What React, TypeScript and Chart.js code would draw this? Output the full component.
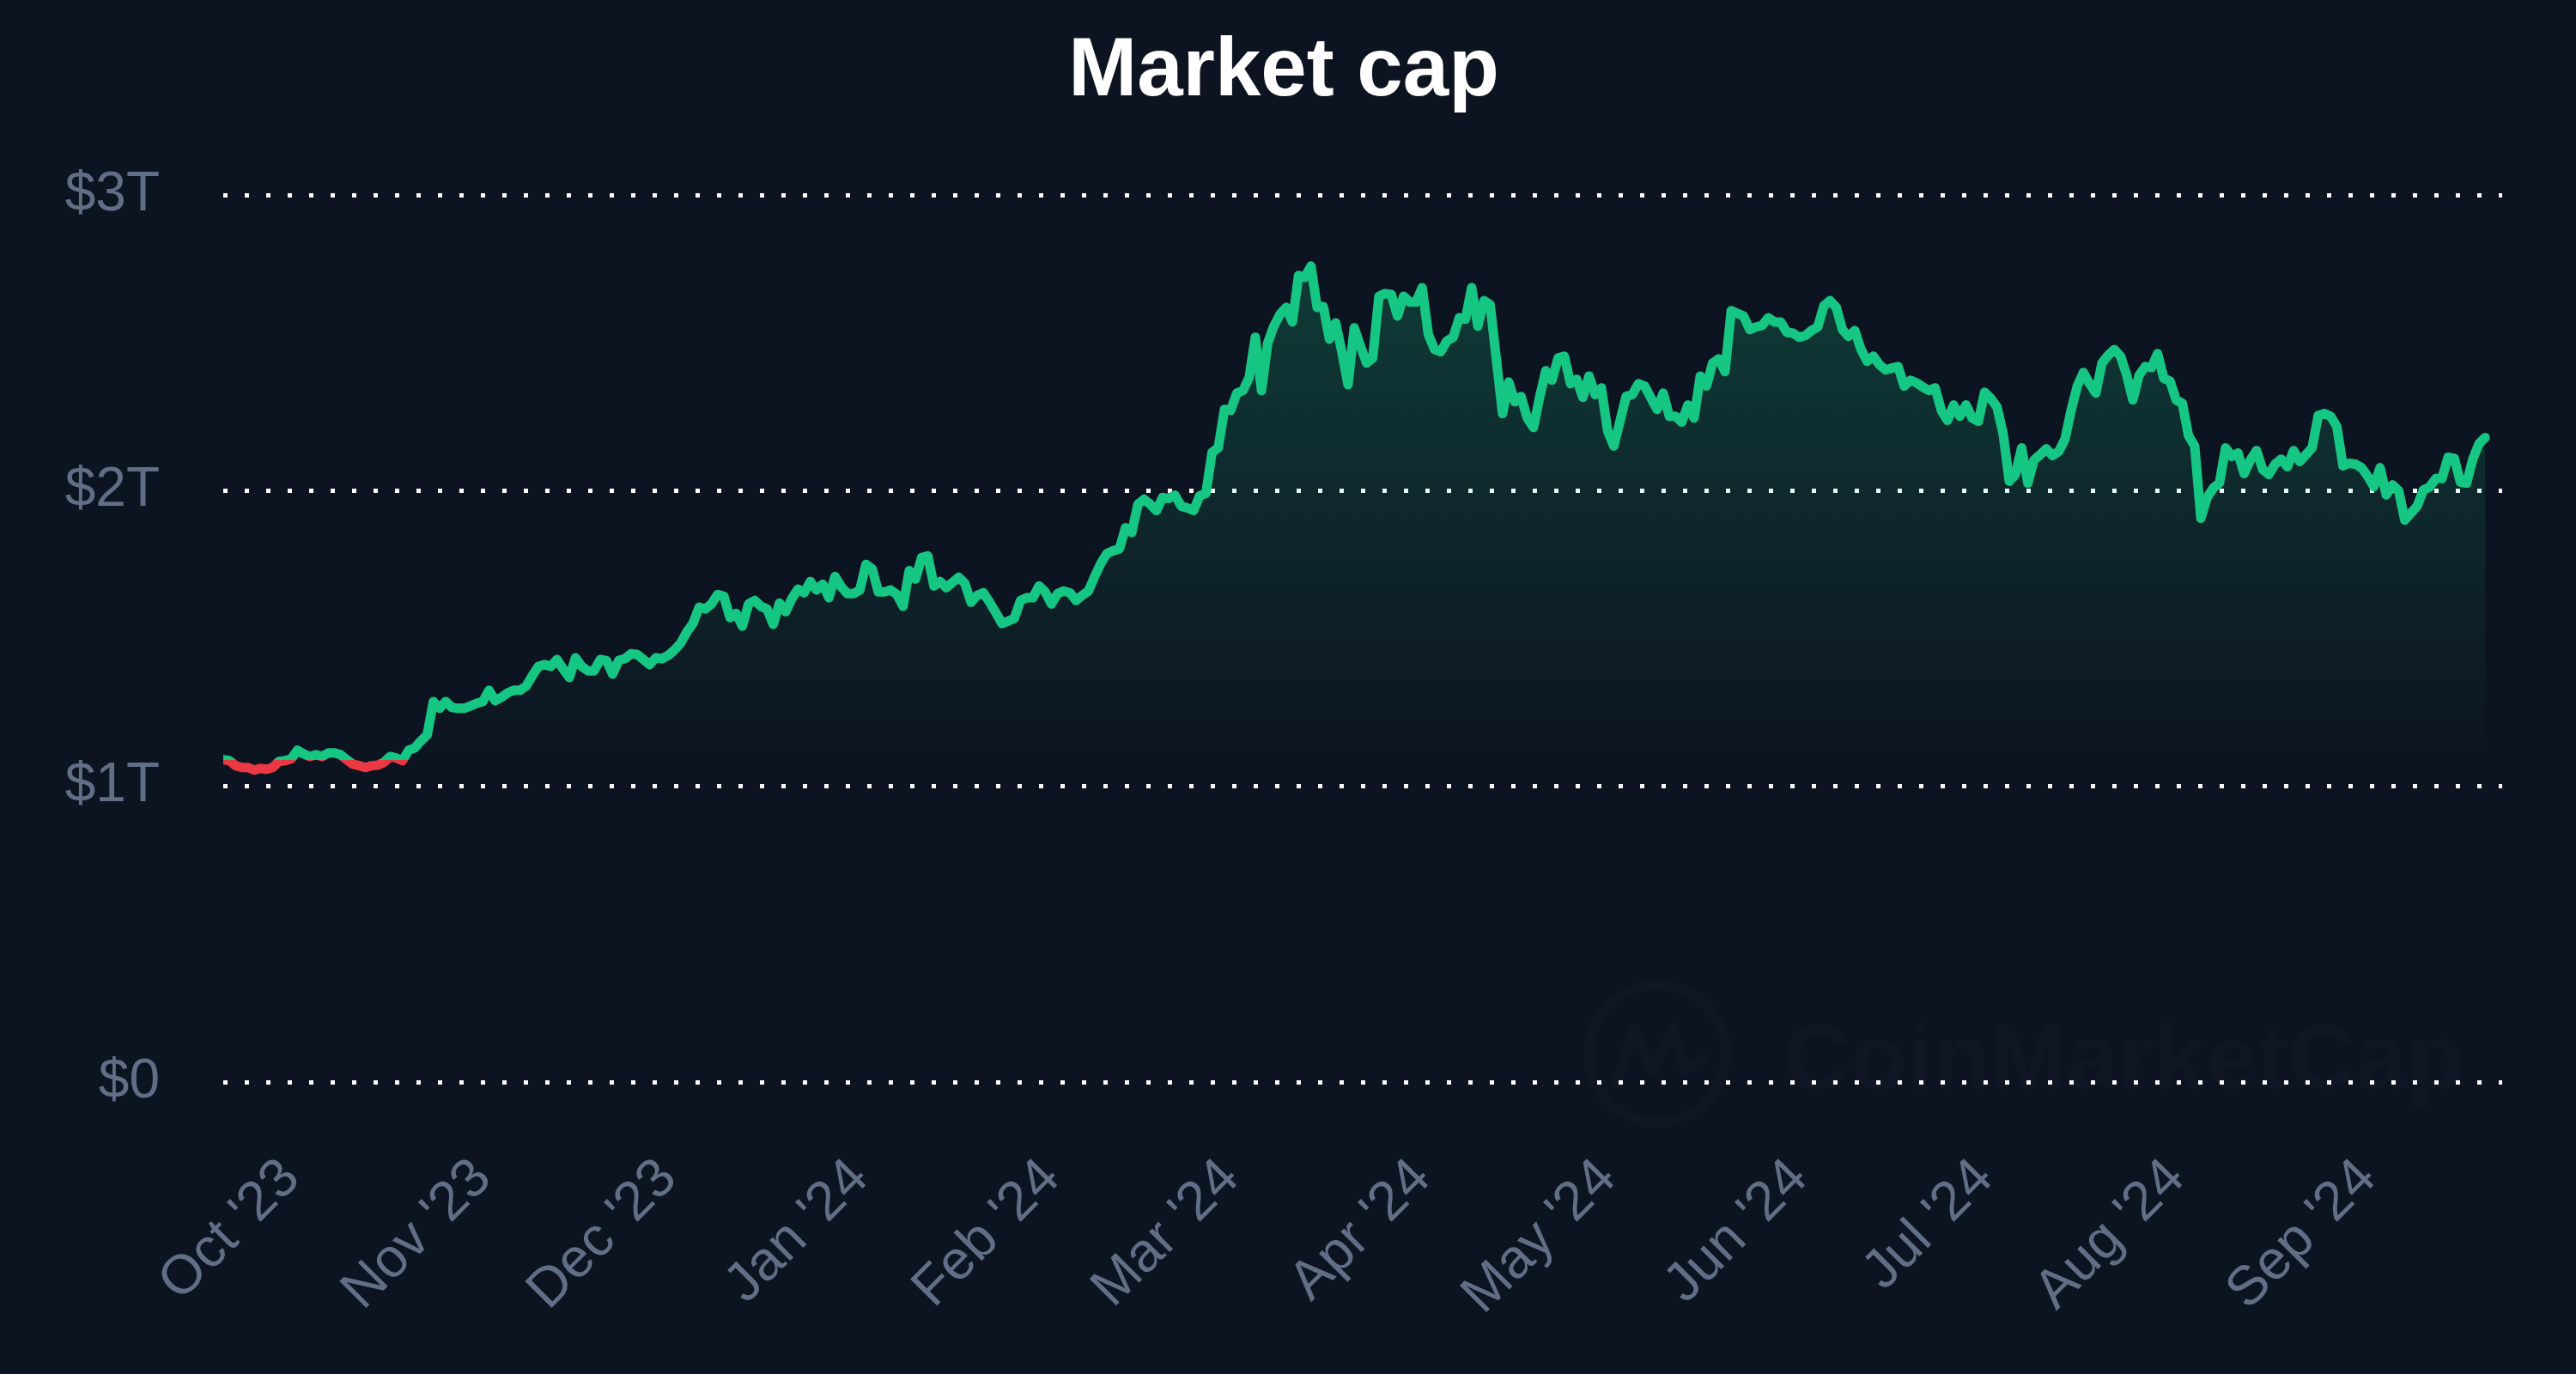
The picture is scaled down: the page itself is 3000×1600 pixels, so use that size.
import React, { useEffect, useRef } from 'react';
import { Chart, registerables } from 'chart.js';

Chart.register(...registerables);

// ---------- data ----------
const START_DATE = '2023-09-20';

// Total crypto market cap, daily, in billions of USD (null = not read)
const MARKET_CAP_B: (number | null)[] = [
  1090, 1087, 1070, 1064, 1064, 1055, 1061, 1058, 1064, 1084,
  1087, 1093, 1122, 1110, 1101, 1107, 1101, 1113, 1113, 1107,
  1090, 1075, 1070, 1064, 1070, 1072, 1081, 1101, 1096, 1087,
  1122, 1130, 1154, 1174, 1287, 1264, 1287, 1267, 1264, 1264,
  1272, 1281, 1287, 1325, 1290, 1301, 1316, 1325, 1325, 1339,
  1374, 1406, 1412, 1406, 1429, 1397, 1368, 1435, 1406, 1391,
  1391, 1429, 1426, 1380, 1426, 1432, 1449, 1446, 1429, 1412,
  1435, 1432, 1443, 1461, 1484, 1522, 1551, 1606, 1600, 1617,
  1649, 1643, 1571, 1585, 1542, 1617, 1629, 1609, 1600, 1548,
  1620, 1591, 1635, 1667, 1655, 1693, 1664, 1684, 1638, 1710,
  1675, 1652, 1652, 1664, 1751, 1736, 1658, 1658, 1664, 1649,
  1609, 1730, 1701, 1774, 1780, 1678, 1693, 1672, 1690, 1707,
  1687, 1623, 1646, 1655, 1623, 1588, 1551, 1559, 1568, 1629,
  1638, 1638, 1678, 1658, 1617, 1652, 1661, 1655, 1629, 1646,
  1661, 1710, 1754, 1788, 1797, 1803, 1875, 1858, 1954, 1971,
  1954, 1933, 1977, 1974, 1985, 1948, 1942, 1933, 1983, 1991,
  2130, 2145, 2275, 2272, 2330, 2339, 2383, 2519, 2339, 2499,
  2557, 2597, 2620, 2571, 2728, 2722, 2760, 2620, 2623, 2513,
  2568, 2470, 2359, 2551, 2490, 2432, 2449, 2658, 2667, 2664,
  2591, 2658, 2638, 2638, 2687, 2528, 2478, 2470, 2507, 2519,
  2585, 2580, 2687, 2557, 2643, 2629, null, 2261, 2368, 2301,
  2319, 2246, 2214, 2316, 2406, 2374, 2449, 2455, 2362, 2377,
  2316, 2388, 2325, 2348, 2203, 2151, null, 2319, 2325, 2362,
  2354, null, 2275, 2330, 2252, 2252, 2232, 2290, 2246, 2388,
  2354, 2432, 2446, 2403, 2609, 2600, 2591, 2545, 2554, 2559,
  2585, 2571, 2571, 2536, 2533, 2519, 2525, 2542, 2554, 2626,
  2643, 2620, 2545, 2522, 2542, 2478, 2438, 2455, 2426, 2409,
  2415, 2420, 2354, 2374, 2365, 2351, 2339, 2348, 2272, 2238,
  2290, 2252, 2290, 2246, 2235, 2333, 2313, 2284, 2194, 2032,
  2055, 2145, 2026, 2104, 2122, 2142, 2119, 2133, 2174, 2272,
  2354, 2400, 2362, 2330, 2432, 2458, 2478, 2455, 2391, 2307,
  2391, 2420, 2417, 2464, 2380, 2371, 2307, 2296, 2186, 2151,
  1907, 1977, 2009, 2026, 2145, 2116, 2128, 2058, 2104, 2136,
  2072, 2055, 2090, 2107, 2081, 2136, 2099, 2122, 2145, 2255,
  2261, 2252, 2217, 2084, 2093, 2090, 2078, 2049, 2014, 2078,
  1986, 2020, 2000, 1901, 1925, 1948, 2003, 2012, 2041, 2041,
  2113, 2110, 2029, 2026, 2107, 2159, 2180,
];

const MONTH_TICK_DATES = [
  '2023-10-01', '2023-11-01', '2023-12-01', '2024-01-01', '2024-02-01', '2024-03-01',
  '2024-04-01', '2024-05-01', '2024-06-01', '2024-07-01', '2024-08-01', '2024-09-01',
];
const MONTH_TICK_LABELS = [
  "Oct '23", "Nov '23", "Dec '23", "Jan '24", "Feb '24", "Mar '24",
  "Apr '24", "May '24", "Jun '24", "Jul '24", "Aug '24", "Sep '24",
];
const Y_TICK_VALUES = [0, 1000, 2000, 3000];
const Y_TICK_LABELS = ['$0', '$1T', '$2T', '$3T'];

// ---------- style ----------
const BG = '#0d1421';
const GREEN = '#16c784';
const RED = '#ea3943';
const AXIS_TEXT = '#616e85';
const WATERMARK = '#0f1724';
const FONT = "'Liberation Sans', Arial, Helvetica, sans-serif";
const X_MAX_DAYS = 368.75;

export default function App() {
  const ref = useRef<HTMLCanvasElement | null>(null);

  useEffect(() => {
    document.body.style.margin = '0';
    document.body.style.background = BG;
    const canvas = ref.current;
    if (!canvas) return;

    const start = Date.parse(START_DATE + 'T00:00:00Z');
    const dayOf = (d: string) => Math.round((Date.parse(d + 'T00:00:00Z') - start) / 86400000);
    const tickDays = MONTH_TICK_DATES.map(dayOf);
    const first = MARKET_CAP_B[0] as number;
    const points = MARKET_CAP_B.map((v, i) => ({ x: i, y: v }));

    const bgPlugin = {
      id: 'bgWatermark',
      beforeDraw(chart: any) {
        const { ctx, width, height } = chart;
        ctx.save();
        ctx.fillStyle = BG;
        ctx.fillRect(0, 0, width, height);
        // faint watermark
        ctx.strokeStyle = WATERMARK;
        ctx.fillStyle = WATERMARK;
        ctx.lineWidth = 12;
        ctx.lineJoin = 'round';
        ctx.lineCap = 'round';
        ctx.beginPath();
        ctx.arc(1930, 1227, 80, 0, Math.PI * 2);
        ctx.stroke();
        ctx.beginPath();
        ctx.moveTo(1882, 1262);
        ctx.lineTo(1903, 1196);
        ctx.lineTo(1925, 1250);
        ctx.lineTo(1948, 1196);
        ctx.lineTo(1962, 1246);
        ctx.lineTo(1984, 1232);
        ctx.stroke();
        ctx.font = `bold 108px ${FONT}`;
        ctx.textBaseline = 'alphabetic';
        ctx.textAlign = 'left';
        ctx.fillText('CoinMarketCap', 2077, 1268);
        ctx.restore();
      },
    };

    const splitGradient = (chart: any, top: string, midTop: string, midBottom: string, bottom: string) => {
      const area = chart.chartArea;
      const y0 = chart.scales.y.getPixelForValue(first);
      const g = chart.ctx.createLinearGradient(0, area.top, 0, area.bottom);
      const t = Math.min(1, Math.max(0, (y0 - area.top) / (area.bottom - area.top)));
      g.addColorStop(0, top);
      g.addColorStop(t, midTop);
      g.addColorStop(t, midBottom);
      g.addColorStop(1, bottom);
      return g;
    };

    const chart = new Chart(canvas, {
      type: 'line',
      data: {
        datasets: [
          {
            data: points as any,
            borderWidth: 11,
            borderJoinStyle: 'round',
            borderCapStyle: 'round',
            pointRadius: 0,
            tension: 0,
            spanGaps: true,
            fill: { value: first } as any,
            borderColor: (c: any) => {
              if (!c.chart.chartArea) return GREEN;
              return splitGradient(c.chart, GREEN, GREEN, RED, RED);
            },
            backgroundColor: (c: any) => {
              if (!c.chart.chartArea) return 'rgba(0,0,0,0)';
              return splitGradient(
                c.chart,
                'rgba(22,199,132,0.25)',
                'rgba(22,199,132,0)',
                'rgba(234,57,67,0)',
                'rgba(234,57,67,0.1)'
              );
            },
          },
        ],
      },
      options: {
        responsive: false,
        animation: false,
        devicePixelRatio: 1,
        layout: { padding: { left: 76, right: 86, top: 0, bottom: 0 } },
        plugins: {
          legend: { display: false },
          tooltip: { enabled: false },
          title: {
            display: true,
            text: 'Market cap',
            color: '#ffffff',
            font: { family: FONT, size: 96, weight: 'bold' },
            padding: { top: 27, bottom: 85 },
          },
        },
        scales: {
          x: {
            type: 'linear',
            min: 0,
            max: X_MAX_DAYS,
            afterBuildTicks: (s: any) => {
              s.ticks = tickDays.map((v) => ({ value: v }));
            },
            afterFit: (s: any) => {
              s.height = 340;
            },
            grid: { display: false, drawTicks: false },
            border: { display: false },
            ticks: {
              autoSkip: false,
              minRotation: 45,
              maxRotation: 45,
              padding: 75,
              color: AXIS_TEXT,
              font: { family: FONT, size: 64 },
              callback: (v: any) => {
                const i = tickDays.indexOf(Number(v));
                return i >= 0 ? MONTH_TICK_LABELS[i] : '';
              },
            },
          },
          y: {
            min: 0,
            max: 3000,
            afterBuildTicks: (s: any) => {
              s.ticks = Y_TICK_VALUES.map((v) => ({ value: v }));
            },
            afterFit: (s: any) => {
              s.width = 184;
            },
            grid: { color: '#ffffff', lineWidth: 5, drawTicks: false },
            border: { display: false, dash: [5, 20] },
            ticks: {
              padding: 74,
              color: AXIS_TEXT,
              font: { family: FONT, size: 64 },
              callback: (v: any) => {
                const i = Y_TICK_VALUES.indexOf(Number(v));
                return i >= 0 ? Y_TICK_LABELS[i] : '';
              },
            },
          },
        },
      },
      plugins: [bgPlugin],
    });

    return () => {
      chart.destroy();
    };
  }, []);

  return (
    <div style={{ width: 3000, height: 1600, background: BG }}>
      <canvas ref={ref} width={3000} height={1600} style={{ display: 'block', width: 3000, height: 1600 }} />
    </div>
  );
}
